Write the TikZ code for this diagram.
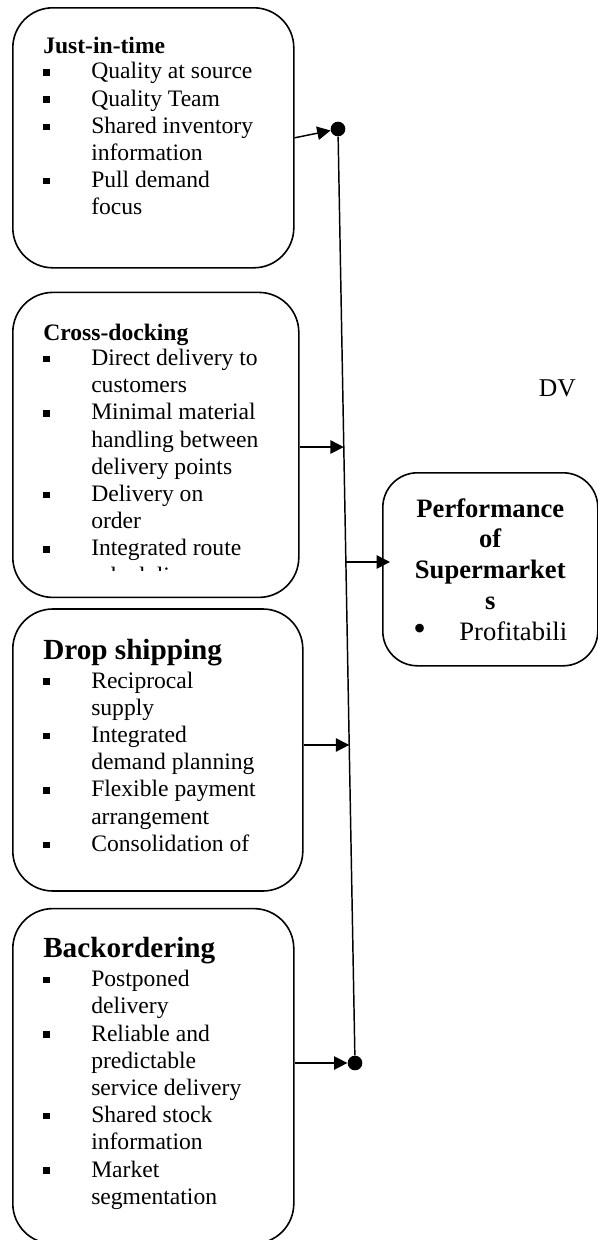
\documentclass[tikz,border=0pt]{standalone}
\usepackage{fontspec}
\setmainfont{Liberation Serif}
\usepackage{tikz}
\usetikzlibrary{arrows.meta, positioning, calc}

\newcommand{\sq}{\makebox[36pt][l]{\raisebox{2.5pt}{\rule{4.8pt}{4.8pt}}}}
\newcommand{\ind}{\hspace*{36pt}}
\newcommand{\hd}[1]{\textbf{#1}}
\newcommand{\bighd}[1]{{\fontsize{21.9}{25}\selectfont\textbf{#1}}}

\begin{document}
\begin{tikzpicture}

        % Define styles
        \tikzstyle{frame} = [rectangle, draw, line width=1.2pt, rounded corners=30pt, inner sep=0pt]
        \tikzstyle{list} = [align=left, inner sep=0pt, font=\fontsize{17.7}{20.4}\selectfont]
        \tikzstyle{result} = [frame, rounded corners=26pt, align=center, font=\fontsize{19.95}{23.06}\selectfont]
        \tikzstyle{dot} = [circle, fill, inner sep=0pt, minimum size=11pt]
        \tikzstyle{line} = [draw, line width=1.1pt]
        \tikzstyle{arrow} = [draw, line width=1.1pt, -{Triangle[length=10pt,width=10pt]}]

        \useasboundingbox (0,0) rectangle (448.5pt,-930pt);

        % Place boxes
        \node [frame, anchor=north west, minimum width=210.75pt, minimum height=195pt] (jit) at (9pt,-5.25pt) {};
        \node [frame, below=17.25pt of jit.south west, anchor=north west, minimum width=214.5pt, minimum height=228.75pt] (cd) {};
        \node [frame, below=7.5pt of cd.south west, anchor=north west, minimum width=217.5pt, minimum height=211.5pt] (ds) {};
        \node [frame, below=12pt of ds.south west, anchor=north west, minimum width=210.75pt, minimum height=251.25pt] (bo) {};
        \node [result, anchor=north west, minimum width=161.25pt, minimum height=144.75pt] (perf) at (286.5pt,-354pt)
            {\textbf{Performance}\\ \textbf{of}\\ \textbf{Supermarket}\\ \textbf{s}\\ \makebox[34.5pt][l]{{\fontsize{27}{23}\selectfont\textbullet}}Profitabili};
        \node [font=\fontsize{19.2}{22}\selectfont] (dv) at (418pt,-291pt) {DV};

        % Box texts
        \node [list, below right=22.7pt and 23.25pt of jit.north west] (jitlist)
            {\hd{Just-in-time}\\[-1.6pt]
             \sq Quality at source\\
             \sq Quality Team\\
             \sq Shared inventory\\
             \ind information\\
             \sq Pull demand\\
             \ind focus};
        \begin{scope}
            \clip (cd.north west) rectangle ([yshift=21pt]cd.south east);
            \node [list, below right=24.2pt and 23.25pt of cd.north west] (cdlist)
                {\hd{Cross-docking}\\[-1.6pt]
                 \sq Direct delivery to\\
                 \ind customers\\
                 \sq Minimal material\\
                 \ind handling between\\
                 \ind delivery points\\
                 \sq Delivery on\\
                 \ind order\\
                 \sq Integrated route\\
                 \ind scheduling};
        \end{scope}
        \node [list, below right=22.8pt and 23.25pt of ds.north west] (dslist)
            {\bighd{Drop shipping}\\[1.3pt]
             \sq Reciprocal\\
             \ind supply\\
             \sq Integrated\\
             \ind demand planning\\
             \sq Flexible payment\\
             \ind arrangement\\
             \sq Consolidation of};
        \node [list, below right=22pt and 23.25pt of bo.north west] (bolist)
            {\bighd{Backordering}\\[1.3pt]
             \sq Postponed\\
             \ind delivery\\
             \sq Reliable and\\
             \ind predictable\\
             \ind service delivery\\
             \sq Shared stock\\
             \ind information\\
             \sq Market\\
             \ind segmentation};

        % Junction line
        \node [dot] (dtop) at (253.5pt,-96.75pt) {};
        \node [dot] (dbot) at (266.25pt,-797.25pt) {};
        \path [line] (dtop) -- (dbot);
        \coordinate (j2) at ($(dtop)!0.3405!(dbot)$);
        \coordinate (jp) at ($(dtop)!0.4636!(dbot)$);
        \coordinate (j3) at ($(dtop)!0.6595!(dbot)$);

        % Draw edges
        \draw [arrow] (jit.east) -- (dtop);
        \draw [arrow] (j2 -| cd.east) -- (j2);
        \draw [arrow] (j3 -| ds.east) -- (j3);
        \draw [arrow] (dbot -| bo.east) -- (dbot);
        \draw [arrow] (jp) -- ($(jp -| perf.west)+(6pt,0)$);

\end{tikzpicture}
\end{document}
